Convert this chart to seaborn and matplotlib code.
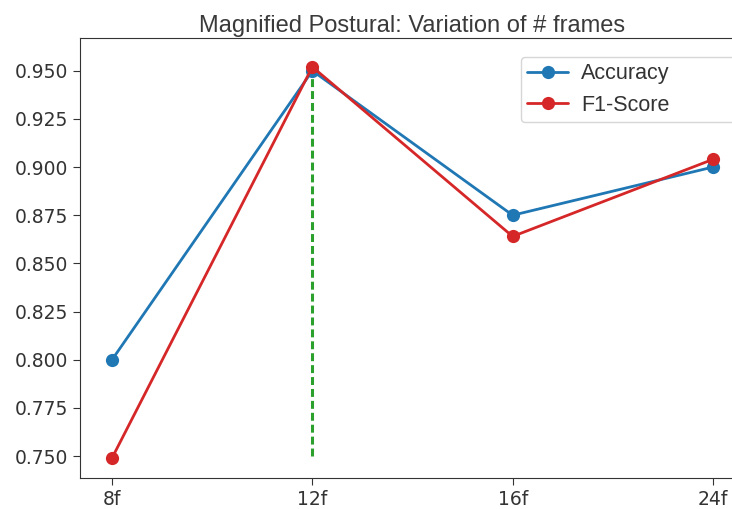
import matplotlib
matplotlib.use("Agg")
import matplotlib.pyplot as plt
import seaborn as sns
import pandas as pd

frames = ["8f", "12f", "16f", "24f"]
accuracy = [0.800, 0.950, 0.875, 0.900]
f1_score = [0.749, 0.952, 0.864, 0.904]
yticks = [0.750, 0.775, 0.800, 0.825, 0.850, 0.875, 0.900, 0.925, 0.950]

df = pd.DataFrame({
    "frames": frames * 2,
    "value": accuracy + f1_score,
    "metric": ["Accuracy"] * 4 + ["F1-Score"] * 4,
})

sns.set_style("ticks")
plt.rcParams["font.family"] = ["DejaVu Sans"]

fig = plt.figure(figsize=(7.32, 5.09), dpi=100)
ax = fig.add_axes([80 / 732, 1 - 478 / 509, (745 - 80) / 732, (478 - 38) / 509])

sns.lineplot(data=df, x="frames", y="value", hue="metric",
             palette={"Accuracy": "#1f77b4", "F1-Score": "#d62728"},
             marker="o", markersize=9.5, markeredgewidth=0, linewidth=2,
             sort=False, ax=ax)
ax.vlines(x=1, ymin=0.75, ymax=0.95, colors="#2ca02c",
          linestyles=(0, (2.6, 1.3)), linewidth=2.2, zorder=1)

ax.set_xlim(-0.16, 3.16)
ax.set_ylim(0.7386, 0.967)
ax.set_yticks(yticks)
ax.set_yticklabels([f"{v:.3f}" for v in yticks])
ax.set_xlabel("")
ax.set_ylabel("")
tick_font = ["DejaVu Sans Condensed", "DejaVu Sans"]
for lab in ax.get_xticklabels() + ax.get_yticklabels():
    lab.set_family(tick_font)
    lab.set_fontsize(13.5)
    lab.set_color("#222222")
ax.tick_params(colors="#333333", length=5)
for s in ax.spines.values():
    s.set_color("#333333")
ax.set_title("Magnified Postural: Variation of # frames", fontsize=17,
             color="#3a3a3a", pad=4, family=["Liberation Sans", "DejaVu Sans"])
leg = ax.legend(loc="upper left", bbox_to_anchor=(0.663, 0.5, 0.33, 0.457),
                mode="expand", borderaxespad=0, labelspacing=0.48, borderpad=0.3,
                handlelength=1.9, handletextpad=0.6, title=None, frameon=True,
                prop={"family": ["Liberation Sans", "DejaVu Sans"], "size": 15.5})
for t in leg.get_texts():
    t.set_color("#333333")

fig.savefig("out.png", dpi=100)
